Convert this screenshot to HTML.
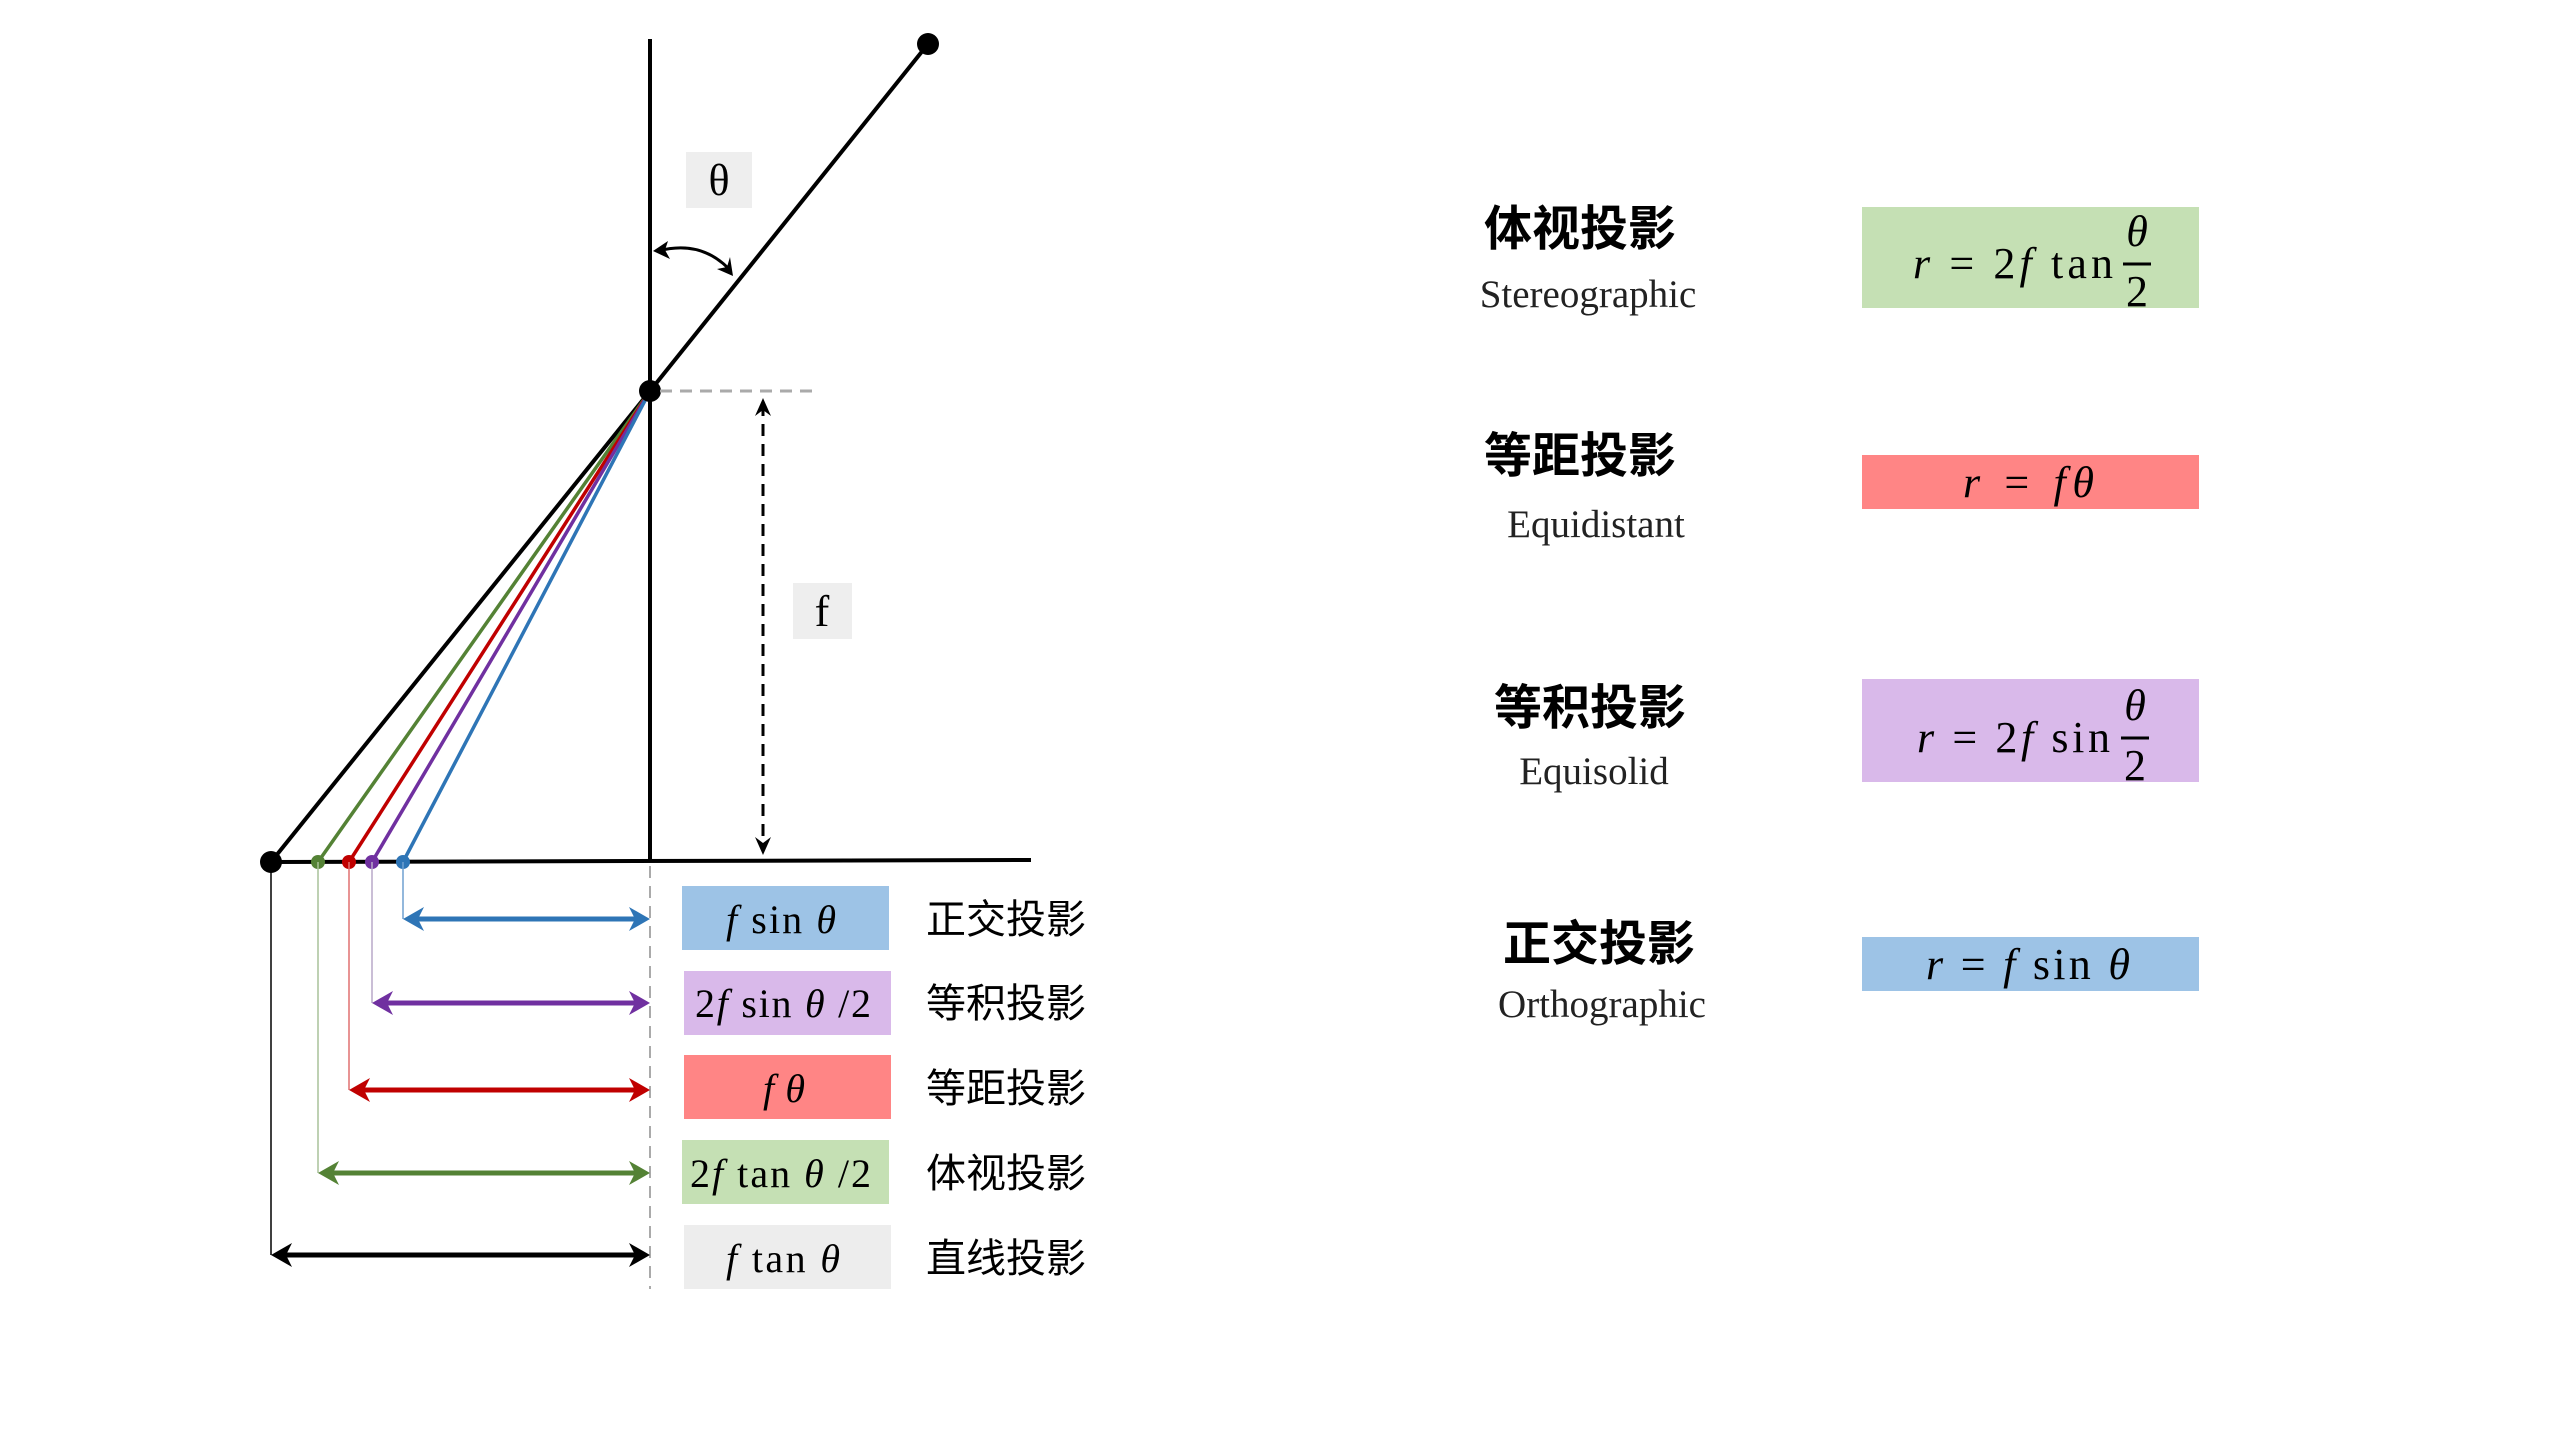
<!DOCTYPE html>
<html><head><meta charset="utf-8"><style>
html,body{margin:0;padding:0;background:#fff;}
svg{display:block;}
.m{font-family:"Liberation Serif","DejaVu Serif",serif;}
.cj{font-family:"Liberation Sans","Noto Sans CJK SC",sans-serif;}
</style></head><body>
<svg width="2560" height="1440" viewBox="0 0 2560 1440" xmlns="http://www.w3.org/2000/svg">
<rect width="2560" height="1440" fill="#fff"/>
<!-- axes -->
<line x1="650" y1="39" x2="650" y2="862" stroke="#000" stroke-width="4"/>
<line x1="271" y1="862" x2="1031" y2="860" stroke="#000" stroke-width="4"/>
<line x1="650" y1="391" x2="928" y2="44" stroke="#000" stroke-width="4"/>
<line x1="650" y1="391" x2="271" y2="862" stroke="#000" stroke-width="4"/>
<line x1="650" y1="391" x2="318" y2="862" stroke="#548235" stroke-width="3.5"/>
<line x1="650" y1="391" x2="349" y2="862" stroke="#c00000" stroke-width="3.5"/>
<line x1="650" y1="391" x2="372" y2="862" stroke="#7030a0" stroke-width="3.5"/>
<line x1="650" y1="391" x2="403" y2="862" stroke="#2e75b6" stroke-width="3.5"/>
<circle cx="928" cy="44" r="11" fill="#000"/>
<circle cx="650" cy="391" r="11" fill="#000"/>
<circle cx="271" cy="862" r="11" fill="#000"/>
<circle cx="318" cy="862" r="7" fill="#548235"/>
<circle cx="349" cy="862" r="7" fill="#c00000"/>
<circle cx="372" cy="862" r="7" fill="#7030a0"/>
<circle cx="403" cy="862" r="7" fill="#2e75b6"/>
<!-- theta -->
<rect x="686" y="152" width="66" height="56" fill="#eeeeee"/>
<text x="719" y="195" text-anchor="middle" class="m" font-size="44">θ</text>
<path d="M658,251 Q700,240 728,268" fill="none" stroke="#000" stroke-width="3"/>
<path d="M653,251 L668,241 L665,250 L670,259 Z" fill="#000"/>
<path d="M733,276 L717,269 L727,267 L730,257 Z" fill="#000"/>
<!-- f -->
<line x1="660" y1="391" x2="820" y2="391" stroke="#aaa" stroke-width="3" stroke-dasharray="12,8"/>
<line x1="763" y1="404" x2="763" y2="848" stroke="#000" stroke-width="3" stroke-dasharray="12,8"/>
<path d="M763,398 L755,416 L763,410 L771,416 Z" fill="#000"/>
<path d="M763,855 L755,837 L763,843 L771,837 Z" fill="#000"/>
<rect x="793" y="583" width="59" height="56" fill="#eeeeee"/>
<text x="822" y="626" text-anchor="middle" class="m" font-size="44">f</text>
<!-- dashed vertical below -->
<line x1="650" y1="866" x2="650" y2="1289" stroke="#aaa" stroke-width="2" stroke-dasharray="12,8"/>
<!-- drop lines -->
<line x1="271" y1="862" x2="271" y2="1255" stroke="#000" stroke-width="1.5"/>
<line x1="318" y1="862" x2="318" y2="1173" stroke="#a9c29a" stroke-width="1.5"/>
<line x1="349" y1="862" x2="349" y2="1090" stroke="#e07070" stroke-width="1.5"/>
<line x1="372" y1="862" x2="372" y2="1003" stroke="#b8a8c8" stroke-width="1.5"/>
<line x1="403" y1="862" x2="403" y2="919" stroke="#6fa0d0" stroke-width="1.5"/>
<!-- arrows -->
<g stroke-width="5">
<line x1="408" y1="919" x2="644" y2="919" stroke="#2e75b6"/>
<line x1="377" y1="1003" x2="644" y2="1003" stroke="#7030a0"/>
<line x1="354" y1="1090" x2="644" y2="1090" stroke="#c00000"/>
<line x1="323" y1="1173" x2="644" y2="1173" stroke="#548235"/>
<line x1="276" y1="1255" x2="644" y2="1255" stroke="#000"/>
</g>
<g>
<path d="M403,919 L424,907 L418,919 L424,931 Z M650,919 L629,907 L635,919 L629,931 Z" fill="#2e75b6"/>
<path d="M372,1003 L393,991 L387,1003 L393,1015 Z M650,1003 L629,991 L635,1003 L629,1015 Z" fill="#7030a0"/>
<path d="M349,1090 L370,1078 L364,1090 L370,1102 Z M650,1090 L629,1078 L635,1090 L629,1102 Z" fill="#c00000"/>
<path d="M318,1173 L339,1161 L333,1173 L339,1185 Z M650,1173 L629,1161 L635,1173 L629,1185 Z" fill="#548235"/>
<path d="M271,1255 L292,1243 L286,1255 L292,1267 Z M650,1255 L629,1243 L635,1255 L629,1267 Z" fill="#000"/>
</g>
<!-- left boxes -->
<rect x="682" y="886" width="207" height="64" fill="#9dc3e6"/>
<rect x="684" y="971" width="207" height="64" fill="#d9b9ea"/>
<rect x="684" y="1055" width="207" height="64" fill="#ff8585"/>
<rect x="682" y="1140" width="207" height="64" fill="#c5e0b4"/>
<rect x="684" y="1225" width="207" height="64" fill="#ededed"/>
<g class="m" font-size="40">
<text x="726" y="933" textLength="110" lengthAdjust="spacing"><tspan font-style="italic">f</tspan> sin <tspan font-style="italic">θ</tspan></text>
<text x="695" y="1017" textLength="176" lengthAdjust="spacing">2<tspan font-style="italic">f</tspan> sin <tspan font-style="italic">θ</tspan> /2</text>
<text x="763" y="1102" textLength="42" lengthAdjust="spacing"><tspan font-style="italic">fθ</tspan></text>
<text x="690" y="1187" textLength="181" lengthAdjust="spacing">2<tspan font-style="italic">f</tspan> tan <tspan font-style="italic">θ</tspan> /2</text>
<text x="726" y="1272" textLength="114" lengthAdjust="spacing"><tspan font-style="italic">f</tspan> tan <tspan font-style="italic">θ</tspan></text>
</g>
<g class="cj" font-size="40">
<text x="926" y="933">正交投影</text>
<text x="926" y="1017">等积投影</text>
<text x="926" y="1102">等距投影</text>
<text x="926" y="1187">体视投影</text>
<text x="926" y="1272">直线投影</text>
</g>
<!-- right column -->
<g class="cj" font-size="48" font-weight="bold" text-anchor="middle">
<text x="1580" y="245">体视投影</text>
<text x="1580" y="472">等距投影</text>
<text x="1590" y="724">等积投影</text>
<text x="1599" y="960">正交投影</text>
</g>
<g class="m" font-size="39" fill="#222" text-anchor="middle">
<text x="1588" y="307">Stereographic</text>
<text x="1596" y="537">Equidistant</text>
<text x="1594" y="784">Equisolid</text>
<text x="1602" y="1017">Orthographic</text>
</g>
<rect x="1862" y="207" width="337" height="101" fill="#c5e0b4"/>
<rect x="1862" y="455" width="337" height="54" fill="#ff8585"/>
<rect x="1862" y="679" width="337" height="103" fill="#d9b9ea"/>
<rect x="1862" y="937" width="337" height="54" fill="#9dc3e6"/>
<g class="m" font-size="44">
<text x="1913" y="278" textLength="200" lengthAdjust="spacing"><tspan font-style="italic">r</tspan> = 2<tspan font-style="italic">f</tspan> tan</text>
<text x="2137" y="246" text-anchor="middle" font-style="italic">θ</text>
<line x1="2123" y1="264" x2="2151" y2="264" stroke="#000" stroke-width="3"/>
<text x="2137" y="306" text-anchor="middle">2</text>
<text x="1963" y="497" textLength="131" lengthAdjust="spacing"><tspan font-style="italic">r</tspan> = <tspan font-style="italic">fθ</tspan></text>
<text x="1917" y="752" textLength="193" lengthAdjust="spacing"><tspan font-style="italic">r</tspan> = 2<tspan font-style="italic">f</tspan> sin</text>
<text x="2135" y="720" text-anchor="middle" font-style="italic">θ</text>
<line x1="2121" y1="738" x2="2149" y2="738" stroke="#000" stroke-width="3"/>
<text x="2135" y="780" text-anchor="middle">2</text>
<text x="1926" y="979" textLength="204" lengthAdjust="spacing"><tspan font-style="italic">r</tspan> = <tspan font-style="italic">f</tspan> sin <tspan font-style="italic">θ</tspan></text>
</g>
</svg>
</body></html>
